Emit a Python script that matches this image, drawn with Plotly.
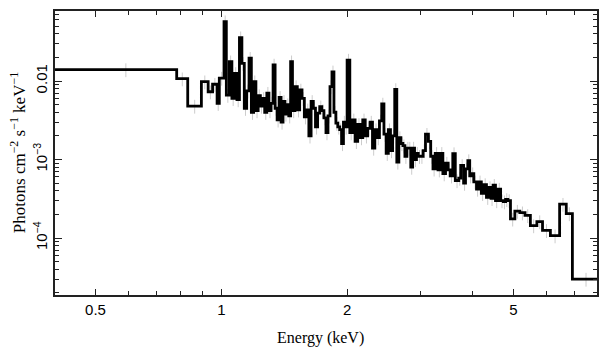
import plotly.graph_objects as go

# Bin edges (keV) of the grouped spectrum
energy_edges = [
    0.40, 0.782, 0.831, 0.896, 0.930, 0.953, 0.977, 0.989, 1.015, 1.028,
    1.045, 1.060, 1.075, 1.090, 1.105, 1.120, 1.135, 1.150, 1.165, 1.180,
    1.195, 1.210, 1.225, 1.240, 1.255, 1.270, 1.285, 1.300, 1.315, 1.330,
    1.345, 1.360, 1.375, 1.390, 1.405, 1.420, 1.435, 1.450, 1.465, 1.480,
    1.50, 1.52, 1.54, 1.56, 1.58, 1.60, 1.62, 1.64, 1.66, 1.68,
    1.70, 1.72, 1.74, 1.76, 1.78, 1.80, 1.82, 1.84, 1.86, 1.88,
    1.90, 1.92, 1.94, 1.96, 1.98,
    2.00, 2.03, 2.06, 2.09, 2.12, 2.15, 2.18, 2.21, 2.24, 2.27,
    2.30, 2.33, 2.36, 2.39, 2.42, 2.45, 2.48, 2.51, 2.54, 2.57,
    2.60, 2.63, 2.66, 2.69, 2.72, 2.75, 2.78, 2.81, 2.84, 2.87,
    2.90, 2.93, 2.96,
    3.00, 3.04, 3.08, 3.13, 3.17, 3.21, 3.25, 3.30, 3.35, 3.39, 3.44,
    3.49, 3.53, 3.58, 3.63, 3.70, 3.74, 3.80, 3.84, 3.89, 3.93, 3.97,
    4.02, 4.08, 4.13, 4.19, 4.25, 4.31, 4.37, 4.42, 4.47, 4.53, 4.59,
    4.66, 4.73, 4.79, 4.85, 4.92,
    5.04, 5.18, 5.33, 5.49, 5.69, 5.87, 6.13, 6.45, 6.69, 6.92,
    8.00,
]

# Flux per bin (photons cm^-2 s^-1 keV^-1)
flux = [
    0.0140, 0.0107, 0.0048, 0.0098, 0.0073, 0.0091, 0.0052, 0.0109, 0.057, 0.0066,
    0.0176, 0.0060, 0.0125, 0.0058, 0.0356, 0.0168, 0.0045, 0.0075, 0.0195, 0.0040,
    0.0098, 0.0042, 0.0065, 0.0048, 0.0060, 0.0040, 0.0070, 0.0042, 0.0052, 0.0160,
    0.0045, 0.0032, 0.0062, 0.0030, 0.0055, 0.0038, 0.0050, 0.0036, 0.0176, 0.0042,
    0.0085, 0.0043, 0.0077, 0.0060, 0.0035, 0.0043, 0.0020, 0.0055, 0.0045, 0.0026,
    0.0039, 0.0047, 0.0042, 0.0034, 0.0022, 0.0036, 0.0085, 0.0131, 0.0040, 0.0029,
    0.0026, 0.0024, 0.0016, 0.0030, 0.0026,
    0.0185, 0.0022, 0.0032, 0.0017, 0.0028, 0.0019, 0.0032, 0.0020, 0.0025, 0.0030,
    0.0014, 0.0024, 0.0019, 0.0031, 0.0051, 0.0021, 0.0012, 0.0024, 0.0013, 0.0020,
    0.0078, 0.00093, 0.0019, 0.0016, 0.0015, 0.0011, 0.0014, 0.0014, 0.0008, 0.0014,
    0.0010, 0.0012, 0.0011,
    0.0011, 0.0013, 0.0021, 0.0017, 0.0011, 0.00076, 0.0012, 0.00074, 0.0012, 0.00066, 0.0009,
    0.00074, 0.00062, 0.00119, 0.00054, 0.00058, 0.00084, 0.00050, 0.00076, 0.00097, 0.00062, 0.00066,
    0.00052, 0.00042, 0.00052, 0.00037, 0.00048, 0.00033, 0.00044, 0.00032, 0.00047, 0.00030, 0.00042,
    0.00030, 0.00029, 0.00031, 0.00030, 0.000175,
    0.00022, 0.00021, 0.000194, 0.000144, 0.000162, 0.000125, 0.000107, 0.00027, 0.000205, 0.00003,
]

x_tick_vals = [0.5, 1, 2, 5]
x_tick_text = ["0.5", "1", "2", "5"]
y_tick_vals = [1e-4, 1e-3, 1e-2]
y_tick_text = ["10<sup>\u22124</sup>", "10<sup>\u22123</sup>", "0.01"]

assert len(energy_edges) == len(flux) + 1

centers = [(a + b) / 2 for a, b in zip(energy_edges[:-1], energy_edges[1:])]
step_y = flux + [flux[-1]]

x_minor = [0.4, 0.6, 0.7, 0.8, 0.9, 3, 4, 6, 7]
y_minor = [m * 10.0 ** e for e in (-5, -4, -3, -2) for m in range(2, 10)]

fig = go.Figure()
fig.add_trace(go.Scatter(
    x=centers, y=flux, mode="markers",
    marker=dict(size=1, color="rgba(0,0,0,0)"),
    error_y=dict(type="percent", value=20, color="#cccccc", thickness=1, width=0),
    hoverinfo="skip", showlegend=False,
))
fig.add_trace(go.Scatter(
    x=energy_edges, y=step_y, mode="lines",
    line=dict(shape="hv", color="black", width=2.8),
    showlegend=False,
))

axis_common = dict(
    showgrid=False, zeroline=False, showline=True, linecolor="#222222",
    linewidth=1.5, mirror="allticks", ticks="inside", tickcolor="#222222",
    tickwidth=1.2, automargin=False,
    tickfont=dict(family="Liberation Sans", size=15, color="black"),
)

fig.update_xaxes(
    type="log", range=[-0.398, 0.899],
    tickmode="array", tickvals=x_tick_vals, ticktext=x_tick_text, ticklen=6,
    minor=dict(ticks="inside", tickmode="array", tickvals=x_minor, ticklen=4,
               tickcolor="#222222", tickwidth=1.2),
    **axis_common,
)
fig.update_yaxes(
    type="log", range=[-4.726, -1.108],
    tickmode="array", tickvals=y_tick_vals, ticktext=y_tick_text, ticklen=7,
    tickangle=-90,
    minor=dict(ticks="inside", tickmode="array", tickvals=y_minor, ticklen=4,
               tickcolor="#222222", tickwidth=1.2),
    **axis_common,
)

fig.add_annotation(
    text="Energy (keV)", xref="paper", yref="paper", x=0.49, y=-0.151,
    showarrow=False, xanchor="center", yanchor="middle",
    font=dict(family="Liberation Serif", size=16, color="black"),
)
fig.add_annotation(
    text="Photons cm<sup>\u22122</sup> s<sup>\u22121</sup> keV<sup>\u22121</sup>",
    xref="paper", yref="paper", x=-0.068, y=0.5, textangle=-90,
    showarrow=False, xanchor="center", yanchor="middle",
    font=dict(family="Liberation Serif", size=17, color="black"),
)

# page body has an 8 px margin, so the figure is sized to fit the window
fig.update_layout(
    width=601, height=349,
    margin=dict(l=47, r=12, t=3, b=62, autoexpand=False),
    paper_bgcolor="white", plot_bgcolor="white",
)

fig.write_html("out.html")
